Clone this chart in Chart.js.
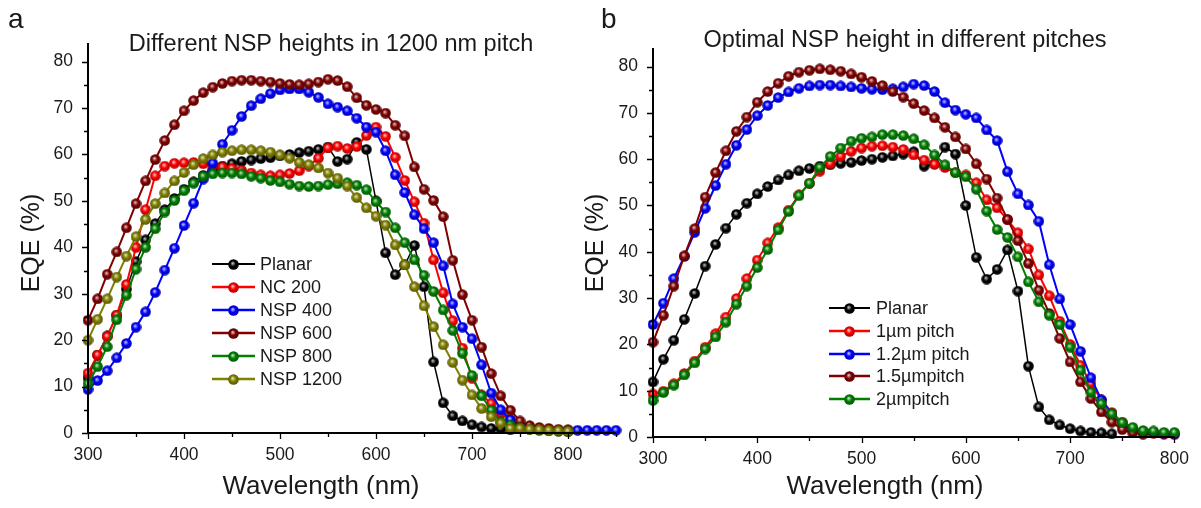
<!DOCTYPE html>
<html>
<head>
<meta charset="utf-8">
<script src="https://cdn.jsdelivr.net/npm/chart.js@4.4.0/dist/chart.umd.min.js"></script>
<style>
  body { margin: 0; background: #fff; width: 1201px; height: 508px; overflow: hidden; position: relative; }
  canvas { position: absolute; top: 0; }
  #chartA { left: 0; }
  #chartB { left: 560px; }
</style>
</head>
<body>
<canvas id="chartA" width="640" height="508"></canvas>
<canvas id="chartB" width="641" height="508"></canvas>
<script>
// wavelength grid (nm), one point every 10 nm
const wavelength = [300,310,320,330,340,350,360,370,380,390,400,410,420,430,440,450,460,470,480,490,
  500,510,520,530,540,550,560,570,580,590,600,610,620,630,640,650,660,670,680,690,
  700,710,720,730,740,750,760,770,780,790,800,810,820,830,840,850];

// EQE (%) values
const planar = [11.9,16.8,20.9,25.4,31.0,36.9,41.6,45.1,48.1,50.5,52.5,54.1,55.5,56.6,57.5,58.0,58.5,58.8,59.1,59.3,
  59.7,60.0,60.4,60.7,61.1,61.6,58.5,59.0,62.6,61.1,50.0,38.8,34.1,36.2,40.4,31.5,15.3,6.5,3.7,2.6,
  1.8,1.3,1.0,0.9,0.7];
const nc200 = [12.9,16.8,20.8,25.4,32.0,40.0,48.1,55.4,57.5,58.1,58.2,58.3,58.0,57.6,57.3,57.0,56.6,56.0,55.6,55.4,
  55.6,55.9,56.5,57.5,59.2,61.4,61.8,61.3,61.7,64.1,65.9,63.9,59.4,54.4,49.8,45.2,37.3,30.2,24.2,18.3,
  11.8,8.2,6.4,4.2,2.7,1.4,1.0,0.8,0.6,0.5,0.4];
const nsp400 = [9.4,11.3,13.4,16.2,19.3,22.8,26.1,30.3,35.1,39.8,44.7,49.5,54.7,58.1,62.2,65.2,68.2,70.5,72.0,73.1,
  73.9,74.1,74.1,73.4,72.3,70.9,70.2,69.4,67.8,65.9,64.8,60.8,55.6,51.8,47.0,44.0,41.0,36.0,27.8,22.8,
  20.3,14.7,8.6,5.0,2.9,1.4,1.0,0.8,0.7,0.6,0.6,0.6,0.6,0.6,0.6,0.6];
// NSP 600 in 1200 nm pitch, also the 1.2 um pitch curve of panel b
const nsp600 = [24.3,28.9,34.2,39.0,44.2,49.4,54.3,58.9,63.0,66.4,69.4,71.6,73.3,74.5,75.3,75.8,76.0,76.0,75.8,75.6,
  75.3,75.1,75.0,75.2,75.6,76.2,75.9,74.6,72.2,70.6,69.7,68.9,66.3,64.0,57.3,52.5,50.1,46.6,37.2,29.8,
  24.3,18.5,12.8,8.0,4.9,2.6,1.6,1.2,1.0,0.8,0.7];
const nsp800 = [10.6,14.3,18.6,24.4,29.7,35.3,40.0,44.0,47.6,50.1,52.2,53.8,55.3,55.8,56.0,56.0,55.8,55.3,54.9,54.4,
  54.1,53.6,53.2,53.1,53.2,53.5,53.7,53.9,53.4,52.4,49.8,47.6,44.2,41.0,37.3,34.0,30.5,26.5,22.1,17.2,
  12.4,8.0,4.9,2.4,1.7,1.1,0.8,0.6,0.5,0.4,0.3];
const nsp1200 = [20.0,24.5,28.9,33.6,38.1,42.3,46.0,49.4,51.7,54.3,56.1,57.8,59.1,59.9,60.5,60.8,61.0,61.0,60.8,60.5,
  59.9,59.2,58.3,57.8,57.1,56.0,54.9,53.2,50.7,48.5,46.7,44.8,40.5,36.2,31.5,27.4,22.9,19.0,15.2,11.4,
  8.2,5.3,3.5,2.1,1.0,1.0,0.8,0.7,0.6,0.5,0.4];
const pitch1 = [9.3,9.9,11.5,13.7,16.4,19.4,22.3,25.9,29.9,34.2,38.2,41.9,45.2,49.0,52.3,54.8,57.4,59.0,60.6,61.7,
  62.4,62.8,62.9,62.6,62.1,60.9,59.8,58.9,58.2,57.1,56.6,54.9,51.2,49.5,46.9,44.1,40.6,35.0,30.5,25.0,
  20.0,15.5,11.5,8.0,5.3,3.2,1.8,1.1,0.8,0.6,0.5];
const pitch15 = [20.5,26.3,32.6,39.1,45.0,51.8,57.1,61.8,66.0,69.1,72.3,74.6,76.4,77.9,78.8,79.2,79.5,79.3,79.0,78.4,
  77.7,76.8,75.9,74.6,73.4,72.0,70.5,68.9,66.9,64.8,62.2,59.0,55.7,51.6,47.0,42.4,37.5,31.7,26.7,21.3,
  16.2,11.9,8.3,5.4,3.2,1.6,0.9,0.6];
const pitch2 = [7.9,9.6,11.2,13.4,16.0,19.0,21.6,24.8,28.7,32.6,36.6,40.5,44.7,48.7,52.1,54.8,58.2,60.6,62.4,63.9,
  64.5,64.8,65.3,65.3,65.1,64.4,63.1,60.9,58.8,57.1,56.2,53.5,48.8,44.8,43.1,38.9,33.5,29.2,26.3,24.3,
  19.4,14.4,9.7,7.2,5.0,3.1,2.1,1.4,1.3,1.0,1.0];

// tick positions
const xTicksA = [300,350,400,450,500,550,600,650,700,750,800,850];
const xTicksB = [300,350,400,450,500,550,600,650,700,750,800];
const yTicks = [0,5,10,15,20,25,30,35,40,45,50,55,60,65,70,75,80];

const FONT = '"Liberation Sans", Arial, sans-serif';
Chart.defaults.font.family = FONT;
Chart.defaults.color = '#1a1a1a';

function mix(hex, other, t) {
  const a = parseInt(hex.slice(1), 16), b = parseInt(other.slice(1), 16);
  const ch = s => Math.round(((a >> s) & 255) * (1 - t) + ((b >> s) & 255) * t);
  return `rgb(${ch(16)},${ch(8)},${ch(0)})`;
}

// shaded ball marker like Origin's sphere symbol
function sphere(color) {
  const c = document.createElement('canvas');
  c.width = c.height = 11;
  const g = c.getContext('2d');
  const grad = g.createRadialGradient(4.6, 4.2, 0.3, 5.5, 5.5, 5.6);
  grad.addColorStop(0, mix(color, '#ffffff', 0.75));
  grad.addColorStop(0.45, color);
  grad.addColorStop(1, mix(color, '#000000', 0.35));
  g.fillStyle = grad;
  g.beginPath();
  g.arc(5.5, 5.5, 5.3, 0, Math.PI * 2);
  g.fill();
  return c;
}

function series(label, values, color, width) {
  return {
    label,
    data: values.map((v, i) => ({ x: wavelength[i], y: v })),
    borderColor: color,
    backgroundColor: color,
    borderWidth: width,
    pointStyle: sphere(color),
    pointRadius: 5,
    tension: 0,
    clip: false
  };
}

const decor = {
  id: 'decor',
  afterDraw(chart, args, o) {
    const { ctx, chartArea: a, scales: { x, y } } = chart;
    ctx.save();
    ctx.strokeStyle = '#000';
    ctx.lineWidth = 2;
    ctx.beginPath();
    ctx.moveTo(a.left, a.top);
    ctx.lineTo(a.left, a.bottom);
    ctx.lineTo(a.right, a.bottom);
    ctx.stroke();
    ctx.lineWidth = 1.3;
    ctx.beginPath();
    x.ticks.forEach(t => {
      const px = Math.round(x.getPixelForValue(t.value)) + 0.5;
      const len = t.value % 100 === 0 ? 6 : 4;
      ctx.moveTo(px, a.bottom);
      ctx.lineTo(px, a.bottom + len);
    });
    y.ticks.forEach(t => {
      const py = Math.round(y.getPixelForValue(t.value)) + 0.5;
      const len = t.value % 10 === 0 ? 6 : 4;
      ctx.moveTo(a.left, py);
      ctx.lineTo(a.left - len, py);
    });
    ctx.stroke();

    // texts
    ctx.fillStyle = '#1a1a1a';
    ctx.textBaseline = 'alphabetic';
    ctx.textAlign = 'left';
    ctx.font = `28px ${FONT}`;
    ctx.fillText(o.letter, o.letterX, 28);
    ctx.textAlign = 'center';
    ctx.font = `23.5px ${FONT}`;
    ctx.fillText(o.title, o.titleX, o.titleY);
    ctx.font = `26px ${FONT}`;
    ctx.fillText('Wavelength (nm)', o.xTitleX, 494);
    ctx.save();
    ctx.translate(o.yTitleX, 243);
    ctx.rotate(-Math.PI / 2);
    ctx.font = `25px ${FONT}`;
    ctx.fillText('EQE (%)', 0, 0);
    ctx.restore();

    // legend
    const L = o.legend;
    ctx.font = `18px ${FONT}`;
    ctx.textAlign = 'left';
    ctx.textBaseline = 'middle';
    chart.data.datasets.forEach((ds, i) => {
      const ly = Math.round(L.y0 + i * L.dy);
      ctx.strokeStyle = ds.borderColor;
      ctx.lineWidth = ds.borderWidth + 0.5;
      ctx.beginPath();
      ctx.moveTo(L.x1, ly);
      ctx.lineTo(L.x2, ly);
      ctx.stroke();
      const img = ds.pointStyle;
      ctx.drawImage(img, Math.round((L.x1 + L.x2) / 2 - img.width / 2), ly - Math.floor(img.height / 2));
      ctx.fillStyle = '#1a1a1a';
      ctx.fillText(ds.label, L.xt, ly + 1);
    });
    ctx.restore();
  }
};

function makeChart(id, datasets, xTicks, xMax, pad, deco) {
  datasets.forEach((d, i) => { d.order = datasets.length - i; });
  return new Chart(document.getElementById(id), {
    type: 'line',
    data: { datasets },
    plugins: [decor],
    options: {
      responsive: false,
      animation: false,
      events: [],
      layout: { padding: pad },
      plugins: { legend: { display: false }, tooltip: { enabled: false }, decor: deco },
      scales: {
        x: {
          type: 'linear', min: 300, max: xMax,
          grid: { display: false, drawTicks: false }, border: { display: false },
          afterBuildTicks: s => { s.ticks = xTicks.map(v => ({ value: v })); },
          afterFit: s => { s.height = 40; },
          ticks: { autoSkip: false, maxRotation: 0, padding: 12, font: { size: 17.5 },
                   callback: v => (v % 100 === 0 ? v : '') }
        },
        y: {
          min: 0, max: 84,
          grid: { display: false, drawTicks: false }, border: { display: false },
          afterBuildTicks: s => { s.ticks = yTicks.map(v => ({ value: v })); },
          afterFit: s => { s.width = 50; },
          ticks: { padding: 15, font: { size: 17.5 },
                   callback: v => (v % 10 === 0 ? v : '') }
        }
      }
    }
  });
}

makeChart('chartA', [
  series('Planar', planar, '#000000', 1.5),
  series('NC 200', nc200, '#ff0000', 2),
  series('NSP 400', nsp400, '#0000ff', 2),
  series('NSP 600', nsp600, '#800000', 2),
  series('NSP 800', nsp800, '#008000', 2),
  series('NSP 1200', nsp1200, '#808000', 2)
], xTicksA, 850, { left: 38, right: 24, top: 43, bottom: 35 }, {
  letter: 'a', letterX: 8,
  title: 'Different NSP heights in 1200 nm pitch', titleX: 331, titleY: 51,
  xTitleX: 321, yTitleX: 39,
  legend: { x1: 212, x2: 255, xt: 260, y0: 264, dy: 23 }
});

makeChart('chartB', [
  series('Planar', planar, '#000000', 1.5),
  series('1\u00b5m pitch', pitch1, '#ff0000', 2),
  series('1.2\u00b5m pitch', nsp600, '#0000ff', 2),
  series('1.5\u00b5mpitch', pitch15, '#800000', 2),
  series('2\u00b5mpitch', pitch2, '#008000', 2)
], xTicksB, 800, { left: 43, right: 22, top: 48, bottom: 31 }, {
  letter: 'b', letterX: 41,
  title: 'Optimal NSP height in different pitches', titleX: 345, titleY: 47,
  xTitleX: 325, yTitleX: 43,
  legend: { x1: 269, x2: 310, xt: 316, y0: 308, dy: 22.8 }
});
</script>
</body>
</html>
